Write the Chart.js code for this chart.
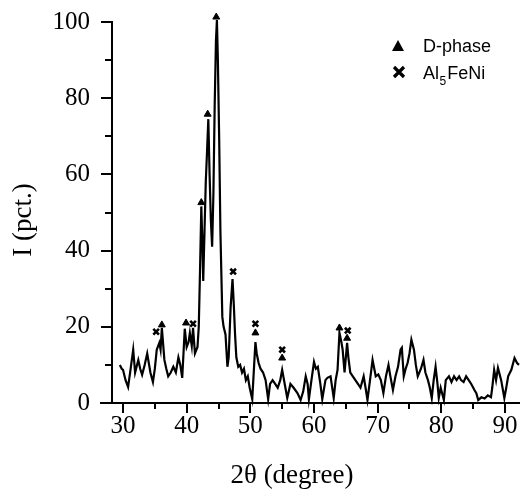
<!DOCTYPE html>
<html>
<head>
<meta charset="utf-8">
<script src="https://cdn.jsdelivr.net/npm/chart.js@4.4.1/dist/chart.umd.min.js"></script>
<style>
  html, body { margin: 0; padding: 0; background: #fff; }
  #wrap { width: 520px; height: 493px; }
</style>
</head>
<body>
<div id="wrap"><canvas id="xrdChart"></canvas></div>
<script>
// Diffraction pattern (2theta in degrees, intensity in pct.)
const twoTheta = [
  29.5, 29.8, 30.0, 30.4, 30.8, 31.2, 31.6, 31.9, 32.2, 32.4, 32.7, 33.0, 33.4, 33.8, 34.1, 34.3,
  34.7, 35.0, 35.3, 35.7, 35.9, 36.1, 36.5, 36.8, 37.1, 37.5, 37.9, 38.3, 38.7, 39.0, 39.3, 39.7,
  40.0, 40.3, 40.5, 40.8, 41.0, 41.3, 41.7, 41.9, 42.1, 42.3, 42.5, 42.6, 42.8, 43.0, 43.2, 43.4,
  43.6, 43.8, 44.0, 44.2, 44.4, 44.6, 44.75, 44.9, 45.1, 45.3, 45.6, 45.8, 46.1, 46.4, 46.6, 46.9,
  47.2, 47.4, 47.6, 47.8, 48.1, 48.4, 48.7, 49.0, 49.3, 49.6, 49.9, 50.3, 50.6, 50.8, 51.0, 51.3,
  51.6, 52.0, 52.4, 52.8, 53.1, 53.5, 53.9, 54.3, 54.7, 55.0, 55.4, 55.8, 56.3, 56.8, 57.4, 57.9,
  58.3, 58.7, 59.0, 59.2, 59.6, 60.0, 60.3, 60.6, 61.0, 61.3, 61.8, 62.1, 62.6, 63.1, 63.4, 63.7,
  64.0, 64.3, 64.5, 64.8, 65.2, 65.4, 65.7, 66.1, 66.5, 66.9, 67.3, 67.8, 68.1, 68.4, 68.8, 69.2,
  69.7, 70.1, 70.5, 70.9, 71.3, 71.7, 72.0, 72.4, 72.8, 73.2, 73.6, 73.8, 74.1, 74.4, 74.7, 75.0,
  75.3, 75.7, 76.0, 76.3, 76.8, 77.2, 77.5, 77.9, 78.2, 78.5, 78.8, 79.1, 79.4, 79.6, 79.9, 80.4,
  80.7, 81.2, 81.6, 82.0, 82.4, 82.8, 83.1, 83.5, 83.9, 84.3, 84.7, 85.2, 85.5, 85.8, 86.3, 86.8,
  87.3, 87.8, 88.0, 88.3, 88.6, 88.9, 89.4, 89.9, 90.2, 90.5, 91.0, 91.5, 91.9, 92.2
];
const intensity = [
  10, 9, 8.7, 6, 4.2, 9, 14, 8, 10, 11.3, 9, 7.4, 10, 13, 10, 8,
  5.5, 9, 14, 15.8, 14, 19.7, 11.3, 9, 7, 8, 9.5, 8, 12, 10, 6.6, 19.5,
  14.7, 16, 18.4, 15, 19.7, 13, 14.7, 20, 35, 51.6, 40, 32, 45, 58, 66, 74.5,
  60, 48, 41, 55, 78, 95, 100.5, 90, 70, 45, 22.6, 20, 18, 9.5, 12, 25,
  32.5, 26, 18, 12, 9.5, 10, 8, 9, 6, 7, 4, 1, 10, 16, 13, 10.5,
  9, 8, 6, 1, 5, 6, 5, 4, 6, 8.7, 5, 1.3, 5, 4, 2.6, 0.8,
  3, 7, 5, 1, 6, 10.8, 9, 9.5, 5, 1, 6, 6.6, 7, 1.3, 6, 8.7,
  18.4, 16, 14, 8, 15.8, 12, 8, 7, 6, 5, 4, 7, 4, 0.8, 6, 11.3,
  7, 7.5, 6, 2.6, 7, 10, 7, 3.4, 7, 9.5, 14, 14.5, 7, 9, 10.5, 13,
  16.6, 14, 10, 7, 9, 11.3, 8, 6, 4, 1.3, 6, 9.5, 5, 1.3, 4, 0.8,
  6, 7, 5.5, 7, 6, 7, 6, 5.5, 7, 6, 5, 3.4, 2.6, 0.8, 1.5, 1.2,
  2, 1.5, 4, 8.7, 6, 9.2, 6, 1.3, 4, 7, 8.7, 11.8, 10.5, 10
];

// Phase markers above the peaks
const dPhaseTheta = [36.1, 39.9, 42.3, 43.3, 44.65, 50.8, 55.0, 64.0, 65.2];
const dPhaseI = [20.5, 21, 52.6, 75.8, 101.3, 18.4, 11.8, 19.7, 17];
const alFeNiTheta = [35.2, 41.0, 47.3, 50.8, 55.0, 65.3];
const alFeNiI = [18.7, 20.8, 34.5, 20.8, 14, 19];

// Axis ticks
const xMajorTicks = [30, 40, 50, 60, 70, 80, 90];
const xMinorTicks = [35, 45, 55, 65, 75, 85];
const yMajorTicks = [0, 20, 40, 60, 80, 100];
const yMinorTicks = [10, 30, 50, 70, 90];

const serif = "'Liberation Serif', 'Times New Roman', serif";
const sans = "'Liberation Sans', Arial, sans-serif";

function toPoints(xs, ys) {
  return xs.map((x, i) => ({ x: x, y: ys[i] }));
}

// Tick marks, axis titles and the legend (with the subscript)
const decorPlugin = {
  id: "decor",
  afterDraw(chart) {
    const ctx = chart.ctx;
    const xs = chart.scales.x;
    const ys = chart.scales.y;
    const area = chart.chartArea;
    ctx.save();
    ctx.strokeStyle = "#000";
    ctx.lineWidth = 2;
    ctx.beginPath();
    // x-axis extends a bit left of the y-axis
    ctx.moveTo(area.left - 12, area.bottom);
    ctx.lineTo(area.left, area.bottom);
    xMajorTicks.forEach((v) => {
      const px = Math.round(xs.getPixelForValue(v));
      ctx.moveTo(px, area.bottom);
      ctx.lineTo(px, area.bottom + 10);
    });
    xMinorTicks.forEach((v) => {
      const px = Math.round(xs.getPixelForValue(v));
      ctx.moveTo(px, area.bottom);
      ctx.lineTo(px, area.bottom + 6);
    });
    yMajorTicks.forEach((v) => {
      const py = Math.round(ys.getPixelForValue(v));
      ctx.moveTo(area.left, py);
      ctx.lineTo(area.left - 11, py);
    });
    yMinorTicks.forEach((v) => {
      const py = Math.round(ys.getPixelForValue(v));
      ctx.moveTo(area.left, py);
      ctx.lineTo(area.left - 7, py);
    });
    ctx.stroke();

    // axis titles
    ctx.fillStyle = "#000";
    ctx.font = "27px " + serif;
    ctx.textAlign = "center";
    ctx.textBaseline = "middle";
    ctx.fillText("2θ (degree)", 292, 476);
    ctx.save();
    ctx.translate(24, 220);
    ctx.rotate(-Math.PI / 2);
    ctx.fillText("I (pct.)", 0, 0);
    ctx.restore();

    // legend
    ctx.beginPath();
    ctx.moveTo(398, 40);
    ctx.lineTo(404, 51);
    ctx.lineTo(392, 51);
    ctx.closePath();
    ctx.fill();
    ctx.lineWidth = 3.2;
    ctx.beginPath();
    ctx.moveTo(394, 67);
    ctx.lineTo(404, 77);
    ctx.moveTo(404, 67);
    ctx.lineTo(394, 77);
    ctx.stroke();

    ctx.textAlign = "left";
    ctx.textBaseline = "alphabetic";
    ctx.font = "18px " + sans;
    ctx.fillText("D-phase", 423, 52);
    ctx.fillText("Al", 423, 79);
    let w = ctx.measureText("Al").width;
    ctx.font = "12px " + sans;
    ctx.fillText("5", 423 + w + 0.5, 85);
    const w5 = ctx.measureText("5").width;
    ctx.font = "18px " + sans;
    ctx.fillText("FeNi", 423 + w + w5 + 1.5, 79);
    ctx.restore();
  },
};

const ctx = document.getElementById("xrdChart").getContext("2d");
new Chart(ctx, {
  type: "scatter",
  data: {
    datasets: [
      {
        label: "XRD",
        data: toPoints(twoTheta, intensity),
        showLine: true,
        borderColor: "#000",
        borderWidth: 2.2,
        pointRadius: 0,
        tension: 0,
      },
      {
        label: "D-phase",
        data: toPoints(dPhaseTheta, dPhaseI),
        pointStyle: "triangle",
        pointRadius: 4,
        backgroundColor: "#000",
        borderColor: "#000",
        borderWidth: 1,
      },
      {
        label: "Al5FeNi",
        data: toPoints(alFeNiTheta, alFeNiI),
        pointStyle: "crossRot",
        pointRadius: 4,
        backgroundColor: "#000",
        borderColor: "#000",
        borderWidth: 2.6,
      },
    ],
  },
  options: {
    responsive: true,
    maintainAspectRatio: false,
    animation: false,
    clip: false,
    layout: { autoPadding: false, padding: { top: 22, right: 0, left: 0, bottom: 0 } },
    scales: {
      x: {
        type: "linear",
        min: 28.27,
        max: 92.36,
        afterBuildTicks: (scale) => {
          scale.ticks = xMajorTicks.map((v) => ({ value: v }));
        },
        afterFit: (scale) => {
          scale.height = 90;
          scale.paddingLeft = 0;
          scale.paddingRight = 0;
        },
        // spacing only, the marks themselves are drawn by the plugin
        grid: { display: false, drawTicks: true, tickLength: 8 },
        border: { display: true, color: "#000", width: 2 },
        ticks: {
          color: "#000",
          padding: 0,
          maxRotation: 0,
          font: { family: serif, size: 25 },
        },
      },
      y: {
        min: 0,
        max: 100,
        afterBuildTicks: (scale) => {
          scale.ticks = yMajorTicks.map((v) => ({ value: v }));
        },
        afterFit: (scale) => {
          scale.width = 112;
        },
        grid: { display: false, drawTicks: true, tickLength: 22 },
        border: { display: true, color: "#000", width: 2 },
        ticks: {
          color: "#000",
          padding: 0,
          font: { family: serif, size: 25 },
        },
      },
    },
    plugins: {
      legend: { display: false },
      tooltip: { enabled: false },
    },
  },
  plugins: [decorPlugin],
});
</script>
</body>
</html>
